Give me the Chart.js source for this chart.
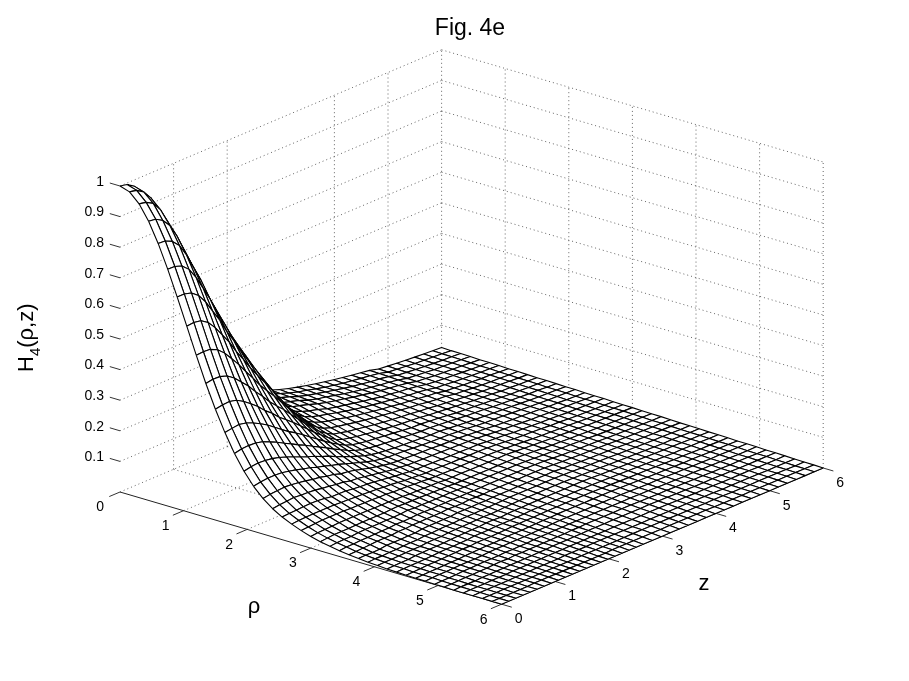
<!DOCTYPE html>
<html>
<head>
<meta charset="utf-8">
<title>Fig. 4e</title>
<script src="https://cdn.jsdelivr.net/npm/chart.js@4"></script>
<style>
  html, body { margin: 0; padding: 0; background: #fff; }
  canvas { display: block; }
</style>
</head>
<body>
<canvas id="chart" width="909" height="681"></canvas>
<script>
/* ------------------------------------------------------------
   DATA
------------------------------------------------------------ */
const rhoValues = [0,.15,.3,.45,.6,.75,.9,1.05,1.2,1.35, 1.5,1.65,1.8,1.95,2.1,2.25,2.4,2.55,2.7,2.85, 3,3.15,3.3,3.45,3.6,3.75,3.9,4.05,4.2,4.35, 4.5,4.65,4.8,4.95,5.1,5.25,5.4,5.55,5.7,5.85, 6];
const zValues = [0,.132,.264,.396,.528,.66,.792,.924,1.056,1.188, 1.32,1.452,1.584,1.716,1.848,1.98,2.112,2.244,2.376,2.508, 2.64,2.808,2.976,3.144,3.312,3.48,3.648,3.816,3.984,4.152, 4.32,4.488,4.656,4.824,4.992,5.16,5.328,5.496,5.664,5.832, 6];

// one row per z value, one column per rho value
const heightRows = [
[1,.990,.960,.912,.849,.774,.692,.606,.520,.437, .362,.295,.236,.187,.147,.116,.092,.074,.060,.048, .038,.030,.024,.019,.015,.012,.009,.007,.005,.004, .003,.002,.002,.001,.001,0,0,0,0,0, 0],
[.995,.985,.955,.909,.847,.773,.692,.608,.522,.441, .366,.299,.241,.192,.151,.120,.095,.076,.062,.050, .040,.032,.026,.021,.016,.013,.010,.008,.006,.005, .004,.003,.003,.002,.001,.001,.001,.001,0,0, 0],
[.980,.970,.942,.895,.836,.765,.686,.604,.520,.440, .368,.302,.242,.194,.154,.122,.097,.077,.063,.052, .041,.034,.027,.021,.017,.012,.010,.008,.007,.006, .005,.004,.004,.002,.002,.001,.001,.001,0,0, 0],
[.950,.941,.912,.869,.813,.744,.668,.589,.509,.432, .362,.297,.241,.193,.154,.124,.099,.078,.064,.053, .042,.034,.027,.023,.018,.013,.011,.009,.007,.006, .006,.004,.004,.003,.003,.001,.001,.001,.001,0, 0],
[.900,.891,.865,.825,.772,.708,.637,.562,.488,.416, .348,.287,.235,.189,.152,.122,.097,.079,.064,.053, .044,.034,.029,.023,.020,.016,.011,.010,.009,.007, .006,.005,.005,.004,.003,.002,.002,.001,.001,0, 0],
[.840,.832,.808,.771,.721,.663,.597,.529,.460,.393, .331,.275,.225,.183,.147,.119,.096,.078,.064,.053, .044,.035,.030,.024,.020,.016,.013,.011,.010,.008, .007,.006,.006,.004,.004,.002,.002,.001,.001,0, 0],
[.780,.772,.751,.717,.672,.617,.558,.495,.431,.370, .312,.261,.214,.175,.142,.115,.094,.076,.064,.053, .044,.036,.030,.025,.020,.016,.014,.011,.011,.009, .008,.006,.006,.005,.004,.003,.002,.002,.001,.001, 0],
[.710,.703,.684,.654,.612,.565,.511,.454,.398,.342, .289,.244,.201,.165,.135,.110,.090,.072,.062,.052, .044,.036,.030,.025,.022,.017,.014,.013,.011,.010, .009,.007,.006,.006,.005,.003,.003,.002,.001,.001, 0],
[.650,.643,.627,.598,.562,.518,.471,.419,.367,.317, .271,.227,.189,.155,.129,.107,.087,.072,.061,.052, .044,.036,.031,.027,.022,.017,.016,.014,.012,.010, .010,.008,.007,.006,.006,.004,.003,.002,.002,.001, 0],
[.585,.579,.563,.538,.507,.469,.426,.381,.334,.289, .248,.210,.176,.146,.121,.101,.083,.071,.060,.051, .043,.036,.031,.026,.024,.020,.016,.014,.013,.011, .010,.009,.008,.006,.005,.004,.003,.003,.002,.001, 0],
[.530,.525,.511,.489,.460,.426,.388,.347,.306,.266, .230,.196,.165,.138,.115,.097,.081,.068,.059,.051, .043,.037,.032,.027,.024,.021,.018,.016,.014,.012, .012,.010,.009,.008,.007,.005,.004,.003,.002,.001, 0],
[.475,.470,.458,.439,.413,.384,.350,.315,.279,.244, .211,.180,.152,.127,.107,.089,.075,.065,.057,.049, .043,.038,.034,.029,.025,.021,.019,.017,.015,.014, .012,.010,.009,.007,.006,.005,.004,.003,.002,.001, 0],
[.420,.416,.405,.389,.367,.340,.311,.281,.250,.219, .191,.163,.139,.119,.101,.086,.073,.064,.056,.049, .042,.037,.032,.029,.025,.022,.019,.017,.016,.014, .012,.011,.010,.008,.007,.006,.005,.003,.002,.001, 0],
[.365,.361,.352,.337,.319,.297,.273,.247,.220,.194, .170,.147,.127,.107,.093,.081,.069,.061,.053,.047, .041,.037,.033,.028,.025,.022,.020,.018,.016,.014, .013,.012,.010,.008,.007,.006,.005,.004,.002,.001, 0],
[.310,.307,.298,.287,.272,.253,.233,.212,.191,.169, .149,.130,.113,.098,.085,.075,.065,.058,.052,.046, .040,.037,.032,.029,.027,.024,.021,.019,.018,.016, .014,.012,.010,.009,.008,.007,.005,.004,.003,.001, 0],
[.260,.257,.250,.241,.229,.214,.198,.180,.163,.146, .130,.114,.101,.088,.078,.068,.061,.055,.049,.045, .040,.036,.032,.029,.026,.024,.021,.020,.018,.016, .015,.012,.011,.010,.008,.007,.006,.004,.003,.001, 0],
[.215,.213,.207,.200,.189,.178,.165,.152,.138,.124, .112,.100,.089,.079,.070,.063,.057,.051,.046,.043, .039,.036,.032,.030,.026,.024,.022,.019,.017,.016, .015,.013,.012,.010,.009,.007,.006,.004,.003,.001, 0],
[.181,.178,.174,.168,.161,.151,.141,.129,.119,.108, .097,.087,.079,.071,.064,.058,.053,.049,.045,.042, .038,.035,.033,.029,.028,.025,.022,.020,.019,.017, .016,.014,.012,.011,.009,.008,.006,.005,.003,.002, 0],
[.157,.154,.151,.146,.141,.133,.125,.116,.105,.095, .087,.079,.072,.065,.059,.054,.051,.046,.043,.040, .038,.035,.032,.030,.027,.024,.023,.021,.020,.018, .016,.015,.013,.011,.010,.008,.007,.005,.003,.002, 0],
[.143,.140,.138,.134,.129,.123,.115,.107,.097,.090, .082,.074,.068,.061,.056,.052,.048,.044,.041,.039, .036,.033,.032,.029,.027,.026,.024,.022,.020,.019, .017,.015,.014,.012,.010,.009,.007,.005,.003,.002, 0],
[.135,.133,.131,.127,.123,.115,.108,.100,.092,.084, .077,.070,.064,.058,.055,.051,.047,.044,.042,.039, .036,.033,.032,.030,.028,.026,.025,.023,.021,.019, .018,.016,.014,.012,.011,.009,.007,.005,.004,.002, 0],
[.125,.123,.121,.118,.114,.107,.101,.094,.086,.079, .073,.067,.061,.055,.053,.049,.046,.043,.041,.038, .036,.033,.032,.030,.028,.026,.025,.023,.021,.019, .018,.016,.014,.012,.011,.009,.007,.005,.004,.002, 0],
[.114,.112,.110,.107,.104,.097,.093,.086,.080,.074, .068,.063,.058,.053,.051,.048,.045,.042,.040,.038, .035,.033,.032,.030,.028,.026,.025,.023,.021,.019, .018,.016,.014,.012,.011,.009,.007,.005,.004,.002, 0],
[.105,.103,.101,.098,.096,.090,.086,.080,.075,.069, .064,.060,.056,.051,.049,.047,.044,.041,.040,.038, .035,.033,.032,.030,.028,.026,.025,.023,.021,.019, .018,.016,.014,.012,.011,.009,.007,.005,.004,.002, 0],
[.097,.096,.094,.092,.089,.084,.080,.075,.070,.065, .060,.056,.052,.049,.047,.045,.043,.041,.039,.037, .035,.033,.032,.030,.028,.026,.025,.023,.021,.019, .018,.016,.014,.012,.011,.009,.007,.005,.004,.002, 0],
[.090,.088,.087,.085,.083,.078,.074,.070,.066,.061, .057,.053,.050,.047,.046,.044,.042,.040,.039,.037, .035,.033,.032,.030,.028,.026,.025,.023,.021,.019, .018,.016,.014,.012,.011,.009,.007,.005,.004,.002, 0],
[.083,.081,.080,.078,.076,.072,.069,.065,.062,.058, .055,.052,.049,.047,.045,.043,.041,.040,.038,.036, .035,.033,.031,.029,.028,.026,.024,.022,.021,.019, .017,.016,.014,.012,.010,.009,.007,.005,.003,.002, 0],
[.077,.075,.074,.072,.071,.067,.064,.061,.058,.055, .052,.049,.047,.044,.042,.041,.039,.037,.036,.034, .033,.031,.029,.028,.026,.024,.023,.021,.020,.018, .016,.015,.013,.011,.010,.008,.007,.005,.003,.002, 0],
[.071,.069,.068,.066,.065,.061,.060,.056,.054,.051, .048,.046,.044,.041,.040,.038,.037,.035,.034,.032, .031,.029,.027,.026,.024,.023,.021,.020,.018,.017, .015,.014,.012,.011,.009,.008,.006,.005,.003,.002, 0],
[.066,.065,.063,.062,.060,.058,.055,.053,.051,.048, .045,.043,.041,.038,.037,.036,.034,.033,.031,.030, .029,.027,.026,.024,.023,.021,.020,.019,.017,.016, .014,.013,.011,.010,.009,.007,.006,.004,.003,.001, 0],
[.061,.060,.058,.057,.056,.053,.051,.049,.046,.044, .042,.039,.038,.036,.034,.033,.032,.030,.029,.028, .027,.025,.024,.023,.021,.020,.019,.017,.016,.015, .013,.012,.011,.009,.008,.007,.005,.004,.003,.001, 0],
[.057,.056,.055,.053,.052,.050,.048,.045,.043,.041, .039,.037,.036,.034,.033,.031,.030,.029,.028,.026, .025,.024,.023,.021,.020,.019,.018,.016,.015,.014, .013,.011,.010,.009,.008,.006,.005,.004,.003,.001, 0],
[.052,.051,.050,.048,.047,.045,.044,.042,.041,.038, .036,.035,.034,.032,.031,.029,.028,.027,.026,.025, .024,.022,.021,.020,.019,.018,.016,.015,.014,.013, .012,.011,.009,.008,.007,.006,.005,.003,.002,.001, 0],
[.044,.043,.042,.041,.040,.039,.037,.036,.035,.034, .033,.032,.031,.030,.029,.028,.026,.025,.024,.023, .022,.021,.020,.019,.018,.017,.015,.014,.013,.012, .011,.010,.009,.008,.007,.006,.004,.003,.002,.001, 0],
[.041,.040,.039,.038,.037,.036,.035,.034,.033,.032, .031,.030,.029,.028,.027,.026,.025,.024,.023,.022, .021,.019,.018,.017,.016,.015,.014,.013,.012,.011, .010,.009,.008,.007,.006,.005,.004,.003,.002,.001, 0],
[.038,.037,.036,.035,.034,.033,.032,.031,.030,.029, .029,.028,.027,.026,.025,.024,.023,.022,.021,.020, .019,.018,.017,.016,.015,.014,.013,.012,.011,.010, .010,.009,.008,.007,.006,.005,.004,.003,.002,.001, 0],
[.035,.034,.033,.032,.032,.031,.030,.029,.028,.027, .026,.025,.025,.024,.023,.022,.021,.020,.019,.018, .018,.017,.016,.015,.014,.013,.012,.011,.011,.010, .009,.008,.007,.006,.005,.004,.004,.003,.002,.001, 0],
[.033,.032,.031,.031,.030,.029,.028,.027,.026,.026, .025,.024,.023,.022,.021,.021,.020,.019,.018,.017, .017,.016,.015,.014,.013,.012,.012,.011,.010,.009, .008,.007,.007,.006,.005,.004,.003,.002,.002,.001, 0],
[.031,.030,.029,.029,.028,.027,.026,.026,.025,.024, .023,.022,.022,.021,.020,.019,.019,.018,.017,.016, .016,.015,.014,.013,.012,.012,.011,.010,.009,.009, .008,.007,.006,.005,.005,.004,.003,.002,.002,.001, 0],
[.029,.028,.028,.027,.026,.025,.025,.024,.023,.022, .022,.021,.020,.020,.019,.018,.017,.017,.016,.015, .015,.014,.013,.012,.012,.011,.010,.009,.009,.008, .007,.007,.006,.005,.004,.004,.003,.002,.001,.001, 0],
[.027,.026,.026,.025,.024,.024,.023,.022,.022,.021, .020,.020,.019,.018,.018,.017,.016,.016,.015,.014, .014,.013,.012,.012,.011,.010,.010,.009,.008,.008, .007,.006,.006,.005,.004,.004,.003,.002,.001,.001, 0]
];

const heightTicks = [0,.1,.2,.3,.4,.5,.6,.7,.8,.9,1];
const heightLabels = ["0","0.1","0.2","0.3","0.4","0.5","0.6","0.7","0.8","0.9","1"];
const rhoTicks = [0,1,2,3,4,5,6];
const zTicks = [0,1,2,3,4,5,6];
const wallZLines = [1,2,4,5,6];   // the z = 3 wall line does not show in the figure

/* ------------------------------------------------------------
   VIEW (orthographic projection of the box onto the page)
------------------------------------------------------------ */
function project(rho, z, h) {
  return {
    x: 120 + 63.6 * rho + 53.6 * z,
    y: 492 + 18.7 * rho - 22.7 * z - 306 * h
  };
}

/* ------------------------------------------------------------
   DATASET HELPERS
------------------------------------------------------------ */
function stroke(points, color, width, dash) {
  return {
    data: points,
    showLine: true,
    pointRadius: 0,
    borderColor: color,
    borderWidth: width,
    borderDash: dash || [],
    fill: false,
    tension: 0
  };
}

function gridLine(a, b) {
  return stroke([project(...a), project(...b)], "#555", 0.9, [1, 3]);
}

function cell(i, j) {
  const corners = [[i, j], [i + 1, j], [i + 1, j + 1], [i, j + 1], [i, j]];
  return {
    data: corners.map(([a, b]) => project(rhoValues[a], zValues[b], heightRows[b][a])),
    showLine: true,
    pointRadius: 0,
    borderColor: "#000",
    borderWidth: 1.1,
    borderJoinStyle: "bevel",
    backgroundColor: "#fff",
    fill: "shape",
    tension: 0
  };
}

/* ------------------------------------------------------------
   BUILD LAYERS, BACK TO FRONT
------------------------------------------------------------ */
const layers = [];

// walls and floor
heightTicks.forEach(h => {
  if (h === 0) return;
  layers.push(gridLine([0, 0, h], [0, 6, h]));
  layers.push(gridLine([0, 6, h], [6, 6, h]));
});
wallZLines.forEach(z => layers.push(gridLine([0, z, 0], [0, z, 1])));
rhoTicks.slice(1).forEach(r => layers.push(gridLine([r, 6, 0], [r, 6, 1])));
rhoTicks.slice(1, 6).forEach(r => layers.push(gridLine([r, 0, 0], [r, 6, 0])));
zTicks.slice(1, 6).forEach(z => layers.push(gridLine([0, z, 0], [6, z, 0])));
layers.push(gridLine([0, 0, 0], [0, 6, 0]));
layers.push(gridLine([0, 6, 0], [6, 6, 0]));

// box edges and tick marks
layers.push(stroke([project(0, 0, 0), project(6, 0, 0)], "#222", 1));
layers.push(stroke([project(6, 0, 0), project(6, 6, 0)], "#222", 1));
heightTicks.slice(1).forEach(h => {
  layers.push(stroke([project(0, 0, h), project(-0.16, 0, h)], "#333", 1));
});
rhoTicks.forEach(r => {
  layers.push(stroke([project(r, 0, 0), project(r, -0.2, 0)], "#333", 1));
});
zTicks.forEach(z => {
  layers.push(stroke([project(6, z, 0), project(6.16, z, 0)], "#333", 1));
});

// surface cells: far corner first, so nearer cells cover them
for (let j = zValues.length - 2; j >= 0; j--) {
  for (let i = 0; i < rhoValues.length - 1; i++) {
    layers.push(cell(i, j));
  }
}

/* ------------------------------------------------------------
   TEXT
------------------------------------------------------------ */
const figureText = {
  id: "figureText",
  afterDraw(chart) {
    const { ctx } = chart;
    const sx = v => chart.scales.x.getPixelForValue(v);
    const sy = v => chart.scales.y.getPixelForValue(v);

    ctx.save();
    ctx.fillStyle = "#000";
    ctx.textBaseline = "middle";

    ctx.font = "23px 'Liberation Sans'";
    ctx.textAlign = "center";
    ctx.fillText("Fig. 4e", sx(470), sy(29));

    ctx.font = "14px 'Liberation Sans'";
    ctx.textAlign = "right";
    heightTicks.forEach((h, k) => {
      const p = project(0, 0, h);
      const drop = h === 0 ? 15 : -4;
      ctx.fillText(heightLabels[k], sx(p.x - 16), sy(p.y + drop));
    });

    ctx.textAlign = "center";
    rhoTicks.slice(1).forEach(r => {
      const p = project(r, 0, 0);
      ctx.fillText(String(r), sx(p.x - 18), sy(p.y + 15.5));
    });
    zTicks.forEach(z => {
      const p = project(6, z, 0);
      ctx.fillText(String(z), sx(p.x + 17), sy(p.y + 15));
    });

    ctx.font = "22px 'Liberation Sans'";
    ctx.fillText("ρ", sx(254), sy(607));
    ctx.fillText("z", sx(704), sy(584));

    // rotated axis label with its subscript
    ctx.translate(sx(32.5), sy(372));
    ctx.rotate(-Math.PI / 2);
    ctx.textAlign = "left";
    ctx.textBaseline = "alphabetic";
    ctx.font = "22px 'Liberation Sans'";
    ctx.fillText("H", 0, 0);
    let run = ctx.measureText("H").width;
    ctx.font = "15px 'Liberation Sans'";
    ctx.fillText("4", run, 7);
    run += ctx.measureText("4").width;
    ctx.font = "22px 'Liberation Sans'";
    ctx.fillText("(ρ,z)", run, 0);
    ctx.restore();
  }
};

/* ------------------------------------------------------------
   CHART
------------------------------------------------------------ */
new Chart(document.getElementById("chart").getContext("2d"), {
  type: "scatter",
  data: { datasets: layers.slice().reverse() },
  options: {
    responsive: false,
    animation: false,
    events: [],
    layout: { padding: 0 },
    plugins: { legend: { display: false }, tooltip: { enabled: false } },
    scales: {
      x: { type: "linear", min: 0, max: 909, display: false },
      y: { type: "linear", min: 0, max: 681, reverse: true, display: false }
    }
  },
  plugins: [figureText]
});
</script>
</body>
</html>
